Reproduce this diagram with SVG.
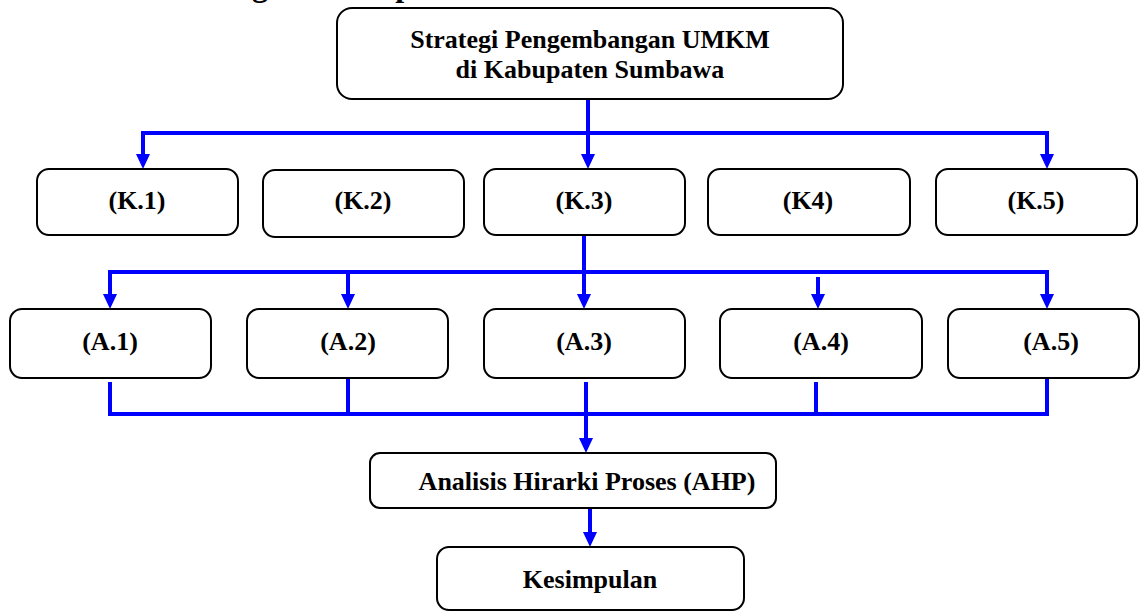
<svg xmlns="http://www.w3.org/2000/svg" width="1140" height="612" viewBox="0 0 1140 612">
<style>
.box{fill:#fff;stroke:#000;stroke-width:2}
text{font-family:'Liberation Serif','Times New Roman','DejaVu Serif',serif;font-weight:bold;font-size:26px;fill:#000;text-anchor:middle}
.ln{fill:none;stroke:#0000ff;stroke-width:4}
.ar{fill:none;stroke:#0000ff;stroke-width:4;marker-end:url(#ah)}
</style>
<defs>
<marker id="ah" viewBox="0 0 15 14" refX="9" refY="7" markerWidth="15" markerHeight="14" markerUnits="userSpaceOnUse" orient="auto">
<path d="M0,0 L15,7 L0,14 z" fill="#0000ff"/>
</marker>
</defs>
<rect width="1140" height="612" fill="#fff"/>
<text x="165" y="-4" font-family="Liberation Serif, serif" style="text-anchor:start;font-size:32px">Kerangka Konseptual</text>
<g id="connectors">
<path class="ln" d="M588,99 V133 M143,133 H1047"/>
<path class="ar" d="M143,131 V163"/>
<path class="ar" d="M588,133 V163"/>
<path class="ar" d="M1047,131 V163"/>
<path class="ln" d="M584,235 V272 M110,272 H1047"/>
<path class="ar" d="M110,270 V303"/>
<path class="ar" d="M348,272 V303"/>
<path class="ar" d="M584,272 V303"/>
<path class="ar" d="M818,277 V303"/>
<path class="ar" d="M1047,270 V303"/>
<path class="ln" d="M110,382 V414 H1049 M348,378 V414 M816,382 V414 M1047,378 V414"/>
<path class="ar" d="M586,382 V447"/>
<path class="ar" d="M590,508 V541"/>
</g>
<g id="top">
<rect class="box" x="337" y="8" width="506" height="91" rx="15"/>
<text x="590" y="48">Strategi Pengembangan UMKM</text>
<text x="590" y="78">di Kabupaten Sumbawa</text>
</g>
<g id="k1"><rect class="box" x="37" y="169" width="201" height="66" rx="12"/><text x="137" y="209">(K.1)</text></g>
<g id="k2"><rect class="box" x="263" y="170" width="201" height="67" rx="12"/><text x="363" y="209">(K.2)</text></g>
<g id="k3"><rect class="box" x="484" y="169" width="201" height="66" rx="12"/><text x="584" y="209">(K.3)</text></g>
<g id="k4"><rect class="box" x="708" y="169" width="202" height="66" rx="12"/><text x="808" y="209">(K4)</text></g>
<g id="k5"><rect class="box" x="936" y="169" width="201" height="66" rx="12"/><text x="1036" y="209">(K.5)</text></g>
<g id="a1"><rect class="box" x="10" y="309" width="201" height="69" rx="12"/><text x="110" y="350">(A.1)</text></g>
<g id="a2"><rect class="box" x="247" y="309" width="201" height="69" rx="12"/><text x="348" y="350">(A.2)</text></g>
<g id="a3"><rect class="box" x="484" y="309" width="201" height="69" rx="12"/><text x="584" y="350">(A.3)</text></g>
<g id="a4"><rect class="box" x="720" y="309" width="202" height="69" rx="12"/><text x="821" y="350">(A.4)</text></g>
<g id="a5"><rect class="box" x="948" y="309" width="191" height="69" rx="12"/><text x="1051" y="350">(A.5)</text></g>
<g id="ahp"><rect class="box" x="370" y="453" width="406" height="55" rx="10"/><text x="587" y="490">Analisis Hirarki Proses (AHP)</text></g>
<g id="kesimpulan"><rect class="box" x="437" y="547" width="307" height="63" rx="12"/><text x="590" y="588">Kesimpulan</text></g>
</svg>
